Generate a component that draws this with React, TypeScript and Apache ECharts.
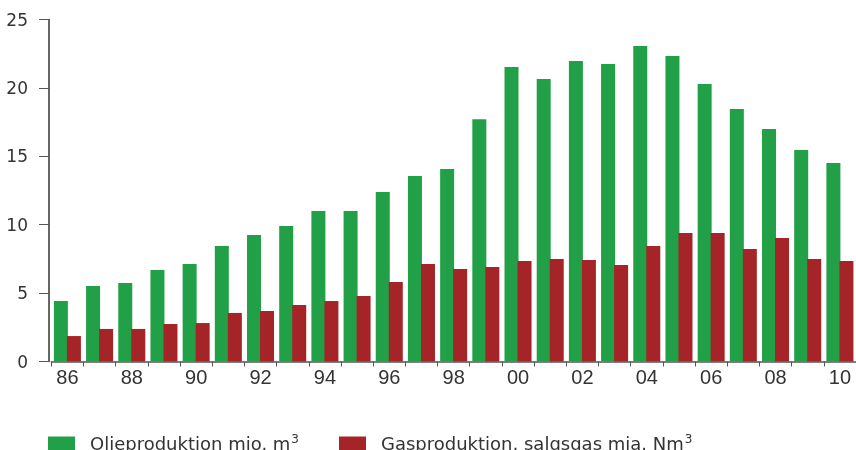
import React, { useEffect, useRef } from "react";
import * as echarts from "echarts";

const categories = ["86","87","88","89","90","91","92","93","94","95","96","97","98","99","00","01","02","03","04","05","06","07","08","09","10"];
const oilValues = [4.42,5.52,5.74,6.69,7.13,8.44,9.25,9.9,11.0,11.0,12.39,13.56,14.07,17.7,21.53,20.65,21.96,21.75,23.06,22.33,20.28,18.46,17.0,15.46,14.51];
const gasValues = [1.86,2.38,2.38,2.74,2.81,3.55,3.69,4.13,4.42,4.79,5.81,7.13,6.76,6.91,7.35,7.49,7.42,7.05,8.44,9.39,9.39,8.22,9.03,7.49,7.35];
const oilName = "Olieproduktion mio. m3";
const gasName = "Gasproduktion, salgsgas mia. Nm3";

export default function App() {
  const ref = useRef<HTMLDivElement>(null);
  useEffect(() => {
    if (!ref.current) return;
    const chart = echarts.init(ref.current, null, { renderer: "svg" });
    chart.setOption({
      animation: false,
      grid: { left: 51.3, right: -4.7, top: 19.5, bottom: 88.5, containLabel: false },
      legend: {
        left: 48,
        top: 433,
        padding: 0,
        itemWidth: 27,
        itemHeight: 14,
        itemGap: 40,
        icon: "rect",
        data: [oilName, gasName],
        formatter: (name: string) => "{t|" + name.slice(0, -1) + "}{s|3}",
        textStyle: {
          rich: {
            t: { fontFamily: "DejaVu Sans", fontSize: 18, color: "#333", padding: [0, 0, 0, 10] },
            s: { fontFamily: "DejaVu Sans", fontSize: 12, color: "#333", padding: [0, 0, 9, 1] },
          },
        },
      },
      xAxis: {
        type: "category",
        data: categories,
        boundaryGap: true,
        axisLine: { lineStyle: { color: "#555", width: 1.5 } },
        axisTick: { show: true, interval: 0, length: 5, lineStyle: { color: "#555" } },
        axisLabel: { interval: 1, margin: 5, fontFamily: "Liberation Sans", fontSize: 20, color: "#333" },
      },
      yAxis: {
        type: "value",
        min: 0,
        max: 25,
        interval: 5,
        offset: 2.3,
        splitLine: { show: false },
        axisLine: { show: true, lineStyle: { color: "#333", width: 1.5 } },
        axisTick: { show: true, length: 10, lineStyle: { color: "#555" } },
        axisLabel: { margin: 21, fontFamily: "DejaVu Sans", fontSize: 17, color: "#333" },
      },
      series: [
        { name: oilName, type: "bar", data: oilValues, barWidth: 14, barGap: "-7%", itemStyle: { color: "#21a047" } },
        { name: gasName, type: "bar", data: gasValues, barWidth: 14, barGap: "-7%", itemStyle: { color: "#a52428" } },
      ],
    });
    return () => chart.dispose();
  }, []);
  return <div ref={ref} style={{ position: "fixed", left: 0, top: 0, width: 856, height: 450 }} />;
}
